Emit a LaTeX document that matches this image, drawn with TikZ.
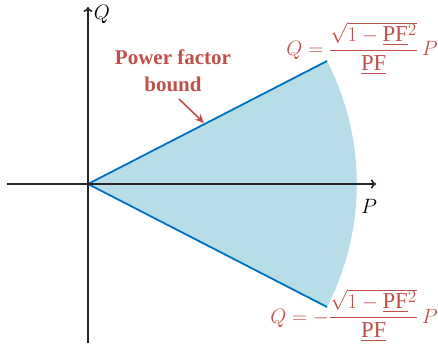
\documentclass[tikz,border=0pt]{standalone}
\usepackage{amsmath}
\usepackage{fontspec}
\setmainfont{Liberation Serif}
\usetikzlibrary{arrows.meta}
\definecolor{pfred}{RGB}{192,80,77}
\definecolor{pffill}{RGB}{182,221,232}
\definecolor{pfblue}{RGB}{0,112,192}
\definecolor{axisgray}{RGB}{38,38,38}
\newcommand{\upf}{\smash[b]{\underline{\mathrm{PF}}}}
\tikzset{
  axis/.style={draw=axisgray, line width=1.6pt, -{To[length=5pt,width=9pt,line width=1.6pt]}},
  bound/.style={draw=pfblue, line width=1.8pt},
  note/.style={text=pfred, font=\fontsize{21}{27}\selectfont\bfseries, align=center},
  formula/.style={text=pfred, font=\fontsize{19}{23}\selectfont, inner sep=0pt, scale=1.2, transform shape},
  axlabel/.style={text=black, font=\fontsize{19}{23}\selectfont, scale=1.2, transform shape},
  pointer/.style={draw=pfred, line width=1.6pt, -{Stealth[length=9pt,width=8pt]}},
}
\begin{document}
\begin{tikzpicture}[x=1pt,y=1pt]
\useasboundingbox (0,0) rectangle (438,348);
\coordinate (O) at (88,164);
\coordinate (A) at (327,287);
\coordinate (B) at (327,41);
\fill[pffill] (O) -- (A) arc[start angle=27.23, end angle=-27.23, radius=268.8pt] -- cycle;
\draw[bound] (O) -- (A);
\draw[bound] (O) -- (B);
\coordinate (xs) at (7,164);
\coordinate (xe) at (376,164);
\coordinate (ys) at (88,5);
\coordinate (ye) at (88,341);
\draw[axis] (xs) -- (xe);
\draw[axis] (ys) -- (ye);
\node[axlabel] (Qlab) at (102,334) {$Q$};
\node[axlabel] (Plab) at (369,142) {$P$};
\node[note] (txt) at (173,277) {Power factor\\bound};
\coordinate (tip) at (204,225);
\draw[pointer] (179,249) -- (tip);
\node[formula, anchor=base east] (fup) at (438,292) {$Q=\dfrac{\sqrt{1-\upf^2}}{\underline{\mathrm{PF}}}\,P$};
\node[formula, anchor=base east] (fdn) at (438,25) {$Q=-\dfrac{\sqrt{1-\upf^2}}{\underline{\mathrm{PF}}}\,P$};
\end{tikzpicture}
\end{document}
